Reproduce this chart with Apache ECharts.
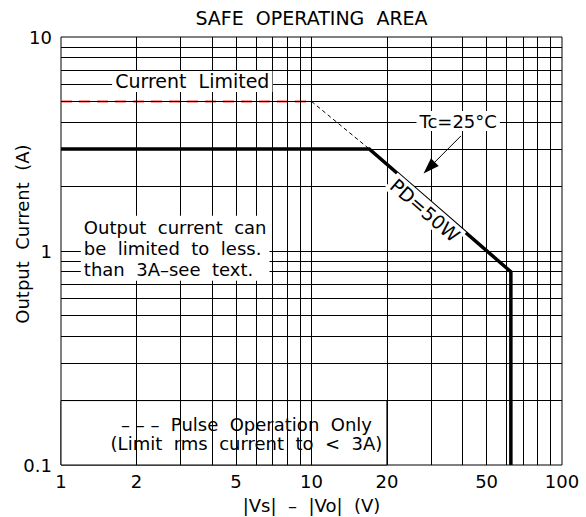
<!DOCTYPE html>
<html>
<head>
<meta charset="utf-8">
<script src="https://cdn.jsdelivr.net/npm/echarts@6/dist/echarts.min.js"></script>
<style>
  html, body { margin: 0; padding: 0; background: #fff; }
  #soa { width: 586px; height: 517px; }
</style>
</head>
<body>
<div id="soa"></div>
<script>
  // axis ticks / grid
  const xTicks = [1, 2, 5, 10, 20, 50, 100]
  const xGrid = [2, 3, 4, 5, 6, 7, 8, 9, 10, 20, 30, 40, 50, 60, 70, 80, 90]
  const yGrid = [0.2, 0.3, 0.4, 0.5, 0.6, 0.7, 0.8, 0.9, 1, 2, 3, 4, 5, 6, 7, 8, 9]

  // safe operating area boundary (Tc = 25°C)
  const soaX = [1, 17, 62.5, 62.5]
  const soaY = [3, 3, 0.8, 0.1]
  // current limited level
  const limitX = [1, 10]
  const limitY = [5, 5]
  // pulse operation only segment
  const pulseX = [10, 17]
  const pulseY = [5, 3]

  const FONT = 'DejaVu Sans'
  const zip = (xs, ys) => xs.map((x, i) => [x, ys[i]])

  const chart = echarts.init(document.getElementById('soa'), null, { renderer: 'svg' })

  const option = {
    animation: false,
    grid: {
      left: 61, right: 24, top: 37, bottom: 52,
      outerBoundsMode: 'none', containLabel: false,
      show: true, borderColor: '#000', borderWidth: 1
    },
    xAxis: {
      type: 'log', logBase: 10, min: 1, max: 100,
      name: '|Vs|  –  |Vo|  (V)', nameLocation: 'middle', nameGap: 31,
      nameTextStyle: { fontFamily: FONT, fontSize: 18, color: '#000' },
      axisLine: { show: false },
      axisTick: { show: false },
      splitLine: { show: false },
      axisLabel: { customValues: xTicks, fontFamily: FONT, fontSize: 18, color: '#000', margin: 7 }
    },
    yAxis: {
      type: 'log', logBase: 10, min: 0.1, max: 10,
      axisLine: { show: false },
      axisTick: { show: false },
      splitLine: { show: false },
      axisLabel: { fontFamily: FONT, fontSize: 18, color: '#000', margin: 9 }
    },
    series: [
      {
        type: 'line', data: [], z: 1, silent: true,
        markLine: {
          silent: true, symbol: ['none', 'none'], label: { show: false },
          lineStyle: { color: '#000', width: 1, type: 'solid' },
          data: xGrid.map(v => ({ xAxis: v })).concat(yGrid.map(v => ({ yAxis: v })))
        }
      },
      {
        type: 'line', data: [], z: 2, silent: true,
        markArea: {
          silent: true,
          itemStyle: { color: '#fff', opacity: 1, borderColor: '#000', borderWidth: 1 },
          data: [[{ coord: [1, 0.2] }, { coord: [20, 0.1] }]]
        }
      },
      {
        type: 'line', data: zip(limitX, limitY), z: 3, symbol: 'none',
        lineStyle: { color: '#ff3b3b', width: 2, type: [11, 7] }
      },
      {
        type: 'line', data: zip(pulseX, pulseY), z: 3, symbol: 'none',
        lineStyle: { color: '#000', width: 1, type: [4, 3] }
      },
      {
        type: 'line', data: zip(soaX, soaY), z: 4, symbol: 'none',
        lineStyle: { color: '#000', width: 3.5, join: 'miter' },
        markLine: {
          silent: true, symbol: ['none', 'triangle'], symbolSize: [11, 16],
          label: { show: false },
          lineStyle: { color: '#000', width: 1, type: 'solid' },
          data: [[{ coord: [39.5, 3.45] }, { coord: [29.5, 2.45] }]]
        }
      }
    ]
  }
  chart.setOption(option)

  const px = (x, y) => chart.convertToPixel({ gridIndex: 0 }, [x, y])
  const textEl = (p, text, opts = {}) => ({
    type: 'text', x: p[0], y: p[1], z: 10, rotation: opts.rotation || 0,
    style: {
      text, fill: '#000', font: (opts.size || 19) + 'px "' + FONT + '"',
      align: opts.align || 'left', textAlign: opts.align || 'left',
      verticalAlign: 'middle', textVerticalAlign: 'middle',
      lineHeight: opts.lineHeight || undefined,
      backgroundColor: opts.bg === false ? null : '#fff', padding: [1, 3]
    }
  })

  const topLeft = px(1, 10)
  const botRight = px(100, 0.1)
  const midX = (topLeft[0] + botRight[0]) / 2
  const k1 = px(soaX[1], soaY[1])
  const k2 = px(soaX[2], soaY[2])
  const ang = Math.atan2(k2[1] - k1[1], k2[0] - k1[0])
  const pd = px(28.4, 1.55)

  const noteLeft = px(1.2, 1)[0]
  chart.setOption({
    graphic: [
      textEl([midX, 18], 'SAFE  OPERATING  AREA', { align: 'center', size: 19, bg: false }),
      textEl([22, px(1, 1.2)[1]], 'Output  Current  (A)', { align: 'center', size: 18, bg: false, rotation: Math.PI / 2 }),
      textEl(px(1.6, 6.2), 'Current  Limited'),
      textEl(px(38.5, 4.05), 'Tc=25°C', { align: 'center', size: 18 }),
      textEl(pd, 'PD=50W', { align: 'center', rotation: -ang }),
      textEl([noteLeft, px(1, 1.03)[1]], 'Output  current  can\nbe  limited  to  less.\nthan  3A–see  text.', { size: 18, lineHeight: 21 }),
      textEl(px(5.5, 0.139), '– – –  Pulse  Operation  Only\n(Limit  rms  current  to  <  3A)', { align: 'center', bg: false, size: 18, lineHeight: 19 })
    ]
  })

  window.addEventListener('resize', function () {
    chart.resize()
  })
</script>
</body>
</html>
